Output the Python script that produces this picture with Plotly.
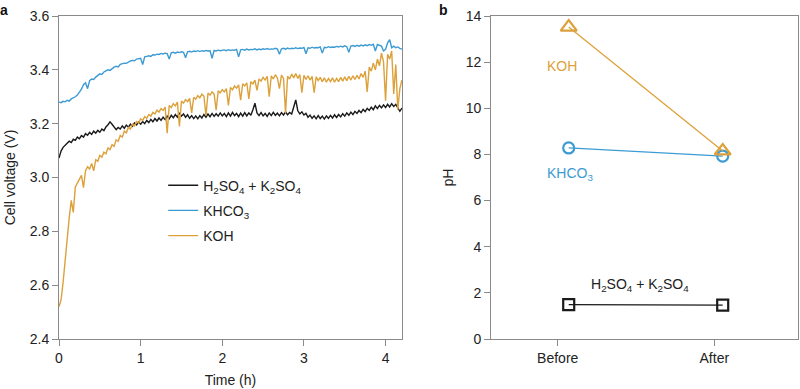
import plotly.graph_objects as go

# ---------------- data: panel a ----------------
time_step_h = 0.025
n_samples = 169
time_h = [round(i * time_step_h, 3) for i in range(n_samples)]

v_h2so4_k2so4 = [
    3.072, 3.098, 3.112, 3.120, 3.128, 3.135, 3.130, 3.142, 3.138, 3.150,
    3.144, 3.156, 3.150, 3.163, 3.157, 3.168, 3.160, 3.172, 3.165, 3.175,
    3.168, 3.180, 3.174, 3.188, 3.196, 3.207, 3.198, 3.186, 3.178, 3.186,
    3.180, 3.192, 3.183, 3.195, 3.187, 3.198, 3.190, 3.203, 3.195, 3.206,
    3.198, 3.208, 3.200, 3.212, 3.204, 3.216, 3.207, 3.219, 3.210, 3.221,
    3.212, 3.224, 3.215, 3.228, 3.218, 3.231, 3.222, 3.234, 3.224, 3.240,
    3.228, 3.236, 3.224, 3.233, 3.220, 3.230, 3.219, 3.229, 3.218, 3.230,
    3.221, 3.234, 3.224, 3.236, 3.226, 3.238, 3.227, 3.237, 3.228, 3.240,
    3.229, 3.238, 3.226, 3.240, 3.228, 3.242, 3.230, 3.238, 3.226, 3.239,
    3.228, 3.241, 3.229, 3.240, 3.231, 3.252, 3.276, 3.240, 3.230, 3.241,
    3.229, 3.238, 3.227, 3.240, 3.230, 3.242, 3.231, 3.239, 3.229, 3.241,
    3.232, 3.244, 3.233, 3.242, 3.236, 3.262, 3.288, 3.248, 3.236, 3.244,
    3.232, 3.238, 3.224, 3.232, 3.220, 3.229, 3.218, 3.230, 3.219, 3.228,
    3.217, 3.229, 3.220, 3.231, 3.221, 3.233, 3.223, 3.234, 3.225, 3.237,
    3.228, 3.240, 3.231, 3.243, 3.234, 3.246, 3.238, 3.249, 3.241, 3.253,
    3.245, 3.257, 3.249, 3.261, 3.252, 3.266, 3.256, 3.268, 3.259, 3.270,
    3.260, 3.272, 3.262, 3.274, 3.264, 3.272, 3.258, 3.246, 3.258,
]

v_khco3 = [
    3.280, 3.278, 3.283, 3.281, 3.287, 3.284, 3.292, 3.295, 3.300, 3.306,
    3.315, 3.328, 3.345, 3.352, 3.330, 3.360, 3.366, 3.364, 3.373, 3.378,
    3.385, 3.383, 3.392, 3.396, 3.400, 3.398, 3.406, 3.410, 3.413, 3.411,
    3.420, 3.422, 3.425, 3.424, 3.430, 3.433, 3.435, 3.434, 3.440, 3.441,
    3.443, 3.420, 3.448, 3.450, 3.452, 3.450, 3.456, 3.455, 3.458, 3.457,
    3.461, 3.459, 3.462, 3.460, 3.440, 3.463, 3.465, 3.462, 3.466, 3.464,
    3.467, 3.465, 3.445, 3.467, 3.469, 3.466, 3.470, 3.468, 3.471, 3.468,
    3.471, 3.469, 3.472, 3.470, 3.471, 3.443, 3.472, 3.470, 3.473, 3.471,
    3.472, 3.474, 3.471, 3.475, 3.472, 3.474, 3.473, 3.476, 3.448, 3.474,
    3.476, 3.473, 3.477, 3.474, 3.476, 3.475, 3.478, 3.474, 3.477, 3.475,
    3.478, 3.476, 3.479, 3.476, 3.478, 3.477, 3.480, 3.477, 3.458, 3.478,
    3.480, 3.477, 3.481, 3.478, 3.480, 3.479, 3.482, 3.479, 3.481, 3.480,
    3.483, 3.460, 3.482, 3.480, 3.484, 3.481, 3.483, 3.482, 3.485, 3.462,
    3.484, 3.482, 3.486, 3.483, 3.485, 3.484, 3.487, 3.485, 3.488, 3.485,
    3.489, 3.486, 3.465, 3.488, 3.490, 3.487, 3.491, 3.488, 3.492, 3.489,
    3.493, 3.490, 3.494, 3.491, 3.495, 3.470, 3.494, 3.492, 3.488, 3.470,
    3.476, 3.500, 3.512, 3.482, 3.488, 3.482, 3.485, 3.480, 3.477,
]

v_koh = [
    2.520, 2.545, 2.610, 2.700, 2.790, 2.850, 2.915, 2.870, 2.965, 2.980,
    2.995, 3.008, 2.962, 3.025, 3.040, 3.032, 3.052, 3.025, 3.066, 3.060,
    3.082, 3.076, 3.094, 3.088, 3.110, 3.104, 3.122, 3.116, 3.140, 3.134,
    3.156, 3.150, 3.172, 3.166, 3.186, 3.180, 3.198, 3.192, 3.208, 3.202,
    3.218, 3.212, 3.226, 3.220, 3.234, 3.228, 3.242, 3.236, 3.250, 3.243,
    3.256, 3.249, 3.262, 3.165, 3.268, 3.260, 3.274, 3.266, 3.280, 3.190,
    3.284, 3.276, 3.289, 3.282, 3.294, 3.240, 3.298, 3.291, 3.304, 3.296,
    3.310, 3.302, 3.230, 3.314, 3.306, 3.318, 3.310, 3.250, 3.322, 3.314,
    3.326, 3.318, 3.330, 3.268, 3.334, 3.326, 3.340, 3.332, 3.344, 3.287,
    3.348, 3.340, 3.352, 3.292, 3.356, 3.348, 3.362, 3.324, 3.366, 3.358,
    3.372, 3.362, 3.376, 3.300, 3.378, 3.366, 3.382, 3.370, 3.330, 3.380,
    3.368, 3.240, 3.376, 3.366, 3.384, 3.370, 3.386, 3.368, 3.382, 3.315,
    3.380, 3.364, 3.378, 3.362, 3.376, 3.315, 3.374, 3.360, 3.372, 3.356,
    3.370, 3.354, 3.368, 3.356, 3.370, 3.354, 3.368, 3.356, 3.372, 3.358,
    3.374, 3.360, 3.376, 3.362, 3.378, 3.364, 3.380, 3.366, 3.386, 3.372,
    3.395, 3.318, 3.410, 3.395, 3.425, 3.400, 3.440, 3.415, 3.462, 3.430,
    3.285, 3.458, 3.440, 3.470, 3.310, 3.420, 3.252, 3.330, 3.362,
]

# ---------------- data: panel b ----------------
ph_stages = ["Before", "After"]
ph_stage_pos = [0, 1]
ph_koh = [13.52, 8.15]
ph_khco3 = [8.28, 7.93]
ph_h2so4_k2so4 = [1.49, 1.47]

# ---------------- style ----------------
C_BLACK = "#1a1a1a"
C_BLUE = "#3d9bd3"
C_ORANGE = "#dca13a"
AXIS_GREY = "#8a8a8a"
FONT = "Liberation Sans, Arial, Helvetica, sans-serif"
FS = 14

lbl_h2 = "H<sub>2</sub>SO<sub>4</sub> + K<sub>2</sub>SO<sub>4</sub>"
lbl_khco3 = "KHCO<sub>3</sub>"
lbl_koh = "KOH"

fig = go.Figure()

for name, vals, col, grp in [
    (lbl_h2, v_h2so4_k2so4, C_BLACK, "g1"),
    (lbl_khco3, v_khco3, C_BLUE, "g2"),
    (lbl_koh, v_koh, C_ORANGE, "g3"),
]:
    fig.add_trace(go.Scatter(
        x=time_h, y=vals, mode="lines", name=name, legendgroup=grp,
        line=dict(color=col, width=1.4), xaxis="x", yaxis="y",
    ))

for vals, col, sym, size in [
    (ph_h2so4_k2so4, C_BLACK, "square-open", 11),
    (ph_khco3, C_BLUE, "circle-open", 11),
    (ph_koh, C_ORANGE, "triangle-up-open", 14),
]:
    fig.add_trace(go.Scatter(
        x=ph_stage_pos, y=vals, mode="lines+markers", showlegend=False,
        line=dict(color=col, width=1.3),
        marker=dict(symbol=sym, size=size, color=col, line=dict(width=2.2, color=col)),
        xaxis="x2", yaxis="y2",
    ))

axis_common = dict(
    showline=True, linecolor=AXIS_GREY, linewidth=1, mirror=True,
    ticks="outside", ticklen=6, tickcolor=AXIS_GREY, tickwidth=1,
    showgrid=False, zeroline=False, automargin=False,
    tickfont=dict(family=FONT, size=FS, color="#222"),
)
title_font = dict(family=FONT, size=FS, color="#222")

fig.update_layout(
    width=800, height=389,
    margin=dict(l=59, r=2, t=16, b=50),
    paper_bgcolor="white", plot_bgcolor="white",
    font=dict(family=FONT, size=FS, color="#222"),
    showlegend=True,
    legend=dict(
        x=0.141, y=0.5245, xanchor="left", yanchor="top",
        bgcolor="rgba(0,0,0,0)", tracegroupgap=4,
        font=dict(family=FONT, size=FS, color="#222"),
    ),
    xaxis=dict(
        domain=[0, 0.464], range=[0, 4.2], tickvals=[0, 1, 2, 3, 4],
        title=dict(text="Time (h)", font=title_font, standoff=10),
        **axis_common,
    ),
    yaxis=dict(
        domain=[0, 1], range=[2.4, 3.6], tickvals=[2.4, 2.6, 2.8, 3.0, 3.2, 3.4, 3.6],
        tickformat=".1f",
        title=dict(text="Cell voltage (V)", font=title_font, standoff=10),
        **axis_common,
    ),
    xaxis2=dict(
        domain=[0.5846, 1], range=[-0.5045, 1.489],
        tickvals=[-0.0714, 0.9455], ticktext=ph_stages,
        anchor="y2",
        **axis_common,
    ),
    yaxis2=dict(
        domain=[0, 1], range=[0, 14], tickvals=[0, 2, 4, 6, 8, 10, 12, 14],
        anchor="x2",
        title=dict(text="pH", font=title_font, standoff=8),
        **axis_common,
    ),
)

# Panel letters
fig.add_annotation(text="<b>a</b>", x=-0.0744, y=1.02, xref="paper", yref="paper",
                   showarrow=False, font=dict(family=FONT, size=FS, color="#111"),
                   xanchor="center", yanchor="middle")
fig.add_annotation(text="<b>b</b>", x=0.5203, y=1.02, xref="paper", yref="paper",
                   showarrow=False, font=dict(family=FONT, size=FS, color="#111"),
                   xanchor="center", yanchor="middle")

# Series labels in panel b
fig.add_annotation(text=lbl_koh, x=-0.045, y=11.84, xref="x2", yref="y2", showarrow=False,
                   font=dict(family=FONT, size=FS, color=C_ORANGE))
fig.add_annotation(text=lbl_khco3, x=0.01, y=7.15, xref="x2", yref="y2", showarrow=False,
                   font=dict(family=FONT, size=FS, color=C_BLUE))
fig.add_annotation(text=lbl_h2, x=0.463, y=2.35, xref="x2", yref="y2", showarrow=False,
                   font=dict(family=FONT, size=FS, color="#222"))

fig.write_html("out.html", config={"displayModeBar": False},
               post_script="document.body.style.margin='0';")
